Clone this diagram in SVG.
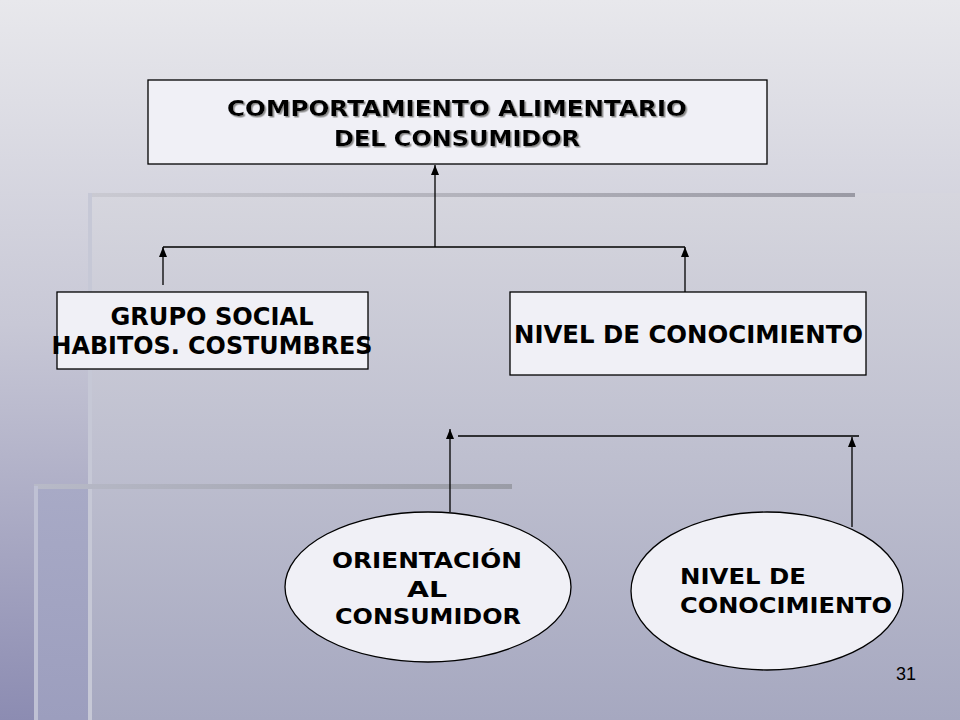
<svg xmlns="http://www.w3.org/2000/svg" width="960" height="720" viewBox="0 0 960 720">
<defs>
<linearGradient id="bg" x1="0" y1="0" x2="0" y2="1">
<stop offset="0" stop-color="#e8e8ec"/><stop offset="0.45" stop-color="#c8c8d6"/><stop offset="1" stop-color="#8c8cb2"/>
</linearGradient>
<linearGradient id="p1" x1="0" y1="0" x2="0" y2="1">
<stop offset="0" stop-color="#d6d6de"/><stop offset="1" stop-color="#a6a8c0"/>
</linearGradient>
<linearGradient id="p2" x1="0" y1="0" x2="0" y2="1">
<stop offset="0" stop-color="#a8aac6"/><stop offset="1" stop-color="#9c9ebe"/>
</linearGradient>
<linearGradient id="hb1" x1="0" y1="0" x2="1" y2="0">
<stop offset="0" stop-color="#cacad2"/><stop offset="1" stop-color="#9a9aa4"/>
</linearGradient>
<linearGradient id="hb2" x1="0" y1="0" x2="1" y2="0">
<stop offset="0" stop-color="#b8bac8"/><stop offset="1" stop-color="#9a9ca6"/>
</linearGradient>
<marker id="ah" viewBox="0 0 10 8" refX="10" refY="4" markerWidth="10" markerHeight="8" markerUnits="userSpaceOnUse" orient="auto">
<path d="M0,0 L10,4 L0,8 Z" fill="#000"/>
</marker>
<filter id="sh" x="-5%" y="-20%" width="110%" height="150%">
<feDropShadow dx="1.5" dy="1.5" stdDeviation="0.4" flood-color="#8a8a8a" flood-opacity="1"/>
</filter>
</defs>
<style>
.box{fill:#f0f0f6;stroke:#000;stroke-width:1.3}
.t{font-family:"DejaVu Sans","Verdana",sans-serif;font-weight:bold;fill:#000}
.c{stroke:#000;stroke-width:1.3;fill:none}
.n{font-family:"Liberation Sans",Arial,sans-serif;font-size:18px;fill:#000}
</style>
<g id="background">
<rect x="0" y="0" width="960" height="720" fill="url(#bg)"/>
<rect x="90" y="193" width="870" height="527" fill="url(#p1)"/>
<rect x="35" y="486" width="55" height="234" fill="url(#p2)"/>
<rect x="88" y="193" width="767" height="4" fill="url(#hb1)"/>
<rect x="88" y="193" width="4" height="527" fill="#c6c8d6"/>
<rect x="34" y="484" width="478" height="5" fill="url(#hb2)"/>
<rect x="34" y="486" width="4" height="234" fill="#bfc1d4"/>
</g>
<g id="connectors">
<path class="c" d="M435,247 V165" marker-end="url(#ah)"/>
<path class="c" d="M163,247 H685"/>
<path class="c" d="M163,285 V247" marker-end="url(#ah)"/>
<path class="c" d="M685,292 V247" marker-end="url(#ah)"/>
<path class="c" d="M458,436 H859"/>
<path class="c" d="M450,512 V429" marker-end="url(#ah)"/>
<path class="c" d="M852,527 V437" marker-end="url(#ah)"/>
</g>
<g id="node-comportamiento">
<rect class="box" x="148" y="80" width="619" height="84"/>
<g filter="url(#sh)">
<text class="t" x="457" y="116" font-size="21" text-anchor="middle" textLength="460" lengthAdjust="spacingAndGlyphs">COMPORTAMIENTO ALIMENTARIO</text>
<text class="t" x="457" y="146" font-size="21" text-anchor="middle" textLength="246" lengthAdjust="spacingAndGlyphs">DEL CONSUMIDOR</text>
</g>
</g>
<g id="node-grupo">
<rect class="box" x="57" y="292" width="311" height="77"/>
<text class="t" x="212" y="325" font-size="24" text-anchor="middle" textLength="203" lengthAdjust="spacingAndGlyphs">GRUPO SOCIAL</text>
<text class="t" x="212" y="354" font-size="24" text-anchor="middle" textLength="321" lengthAdjust="spacingAndGlyphs">HABITOS. COSTUMBRES</text>
</g>
<g id="node-nivel">
<rect class="box" x="510" y="292" width="356" height="83"/>
<text class="t" x="688.5" y="343" font-size="24" text-anchor="middle" textLength="349" lengthAdjust="spacingAndGlyphs">NIVEL DE CONOCIMIENTO</text>
</g>
<g id="node-orientacion">
<ellipse class="box" cx="428" cy="587" rx="143" ry="75"/>
<text class="t" x="427" y="568" font-size="22" text-anchor="middle" textLength="190" lengthAdjust="spacingAndGlyphs">ORIENTACIÓN</text>
<text class="t" x="427" y="597" font-size="22" text-anchor="middle" textLength="40" lengthAdjust="spacingAndGlyphs">AL</text>
<text class="t" x="428" y="624" font-size="22" text-anchor="middle" textLength="186" lengthAdjust="spacingAndGlyphs">CONSUMIDOR</text>
</g>
<g id="node-nivel2">
<ellipse class="box" cx="767" cy="591" rx="136" ry="79"/>
<text class="t" x="680" y="584" font-size="22" textLength="126" lengthAdjust="spacingAndGlyphs">NIVEL DE</text>
<text class="t" x="680" y="613" font-size="22" textLength="212" lengthAdjust="spacingAndGlyphs">CONOCIMIENTO</text>
</g>
<text class="n" x="896" y="680">31</text>
</svg>
